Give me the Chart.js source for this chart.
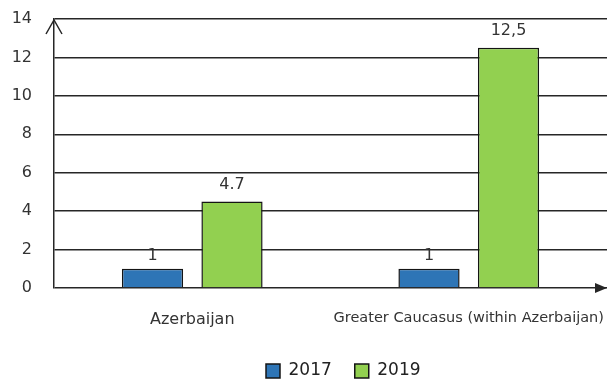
<!DOCTYPE html>
<html>
<head>
<meta charset="utf-8">
<script src="https://cdn.jsdelivr.net/npm/chart.js@4"></script>
<style>
  html, body { margin: 0; padding: 0; background: #fff; }
  #wrap { width: 607px; height: 380px; }
</style>
</head>
<body>
<div id="wrap"><canvas id="chart" width="607" height="380"></canvas></div>
<script>
const categories = ['Azerbaijan', 'Greater Caucasus (within Azerbaijan)'];
const values2017 = [1, 1];
const values2019 = [4.5, 12.5];
const labels2017 = ['1', '1'];
const labels2019 = ['4.7', '12,5'];
const yTicks = [0, 2, 4, 6, 8, 10, 12, 14];

const ink = '#262626';

// value labels above bars
const barLabels = {
  id: 'barLabels',
  afterDatasetsDraw(chart) {
    const { ctx } = chart;
    const texts = [labels2017, labels2019];
    ctx.save();
    ctx.font = '16px "DejaVu Sans"';
    ctx.fillStyle = '#333';
    ctx.textAlign = 'center';
    ctx.textBaseline = 'bottom';
    chart.data.datasets.forEach((ds, i) => {
      chart.getDatasetMeta(i).data.forEach((bar, j) => {
        ctx.fillText(texts[i][j], bar.x, bar.y - (i === 1 ? 9 : 5));
      });
    });
    ctx.restore();
  }
};

// axis arrows
const arrows = {
  id: 'arrows',
  afterDraw(chart) {
    const { ctx, chartArea: a } = chart;
    ctx.save();
    ctx.strokeStyle = ink;
    ctx.fillStyle = ink;
    ctx.lineWidth = 1.5;
    ctx.beginPath();
    ctx.moveTo(a.left - 8, a.top + 15);
    ctx.lineTo(a.left, a.top + 1);
    ctx.lineTo(a.left + 8, a.top + 15);
    ctx.stroke();
    ctx.beginPath();
    ctx.moveTo(a.right, a.bottom);
    ctx.lineTo(a.right - 12, a.bottom - 5);
    ctx.lineTo(a.right - 12, a.bottom + 5);
    ctx.closePath();
    ctx.fill();
    ctx.restore();
  }
};

// put the legend where the original has it (first box at x 266, text centre y 371)
const legendPlace = {
  id: 'legendPlace',
  afterUpdate(chart) {
    const lg = chart.legend;
    const hb = lg.legendHitBoxes[0];
    if (!hb) return;
    const dx = 266 - hb.left;
    const dy = 371 - (hb.top + hb.height / 2);
    lg.left += dx; lg.right += dx;
    lg.top += dy; lg.bottom += dy;
    lg.adjustHitBoxes();
  }
};

new Chart(document.getElementById('chart'), {
  type: 'bar',
  data: {
    labels: categories,
    datasets: [
      { label: '2017', data: values2017, backgroundColor: '#2e75b6', borderColor: '#141414', borderWidth: 1.5 },
      { label: '2019', data: values2019, backgroundColor: '#92d050', borderColor: '#141414', borderWidth: 1.5 }
    ]
  },
  options: {
    responsive: false,
    animation: false,
    categoryPercentage: 0.575,
    barPercentage: 0.77,
    layout: { padding: { top: 19, right: 0, left: 0, bottom: 0 } },
    plugins: {
      tooltip: { enabled: false },
      legend: {
        position: 'bottom',
        labels: {
          boxWidth: 14,
          boxHeight: 14,
          padding: 23,
          color: '#222',
          font: { family: 'DejaVu Sans', size: 17 }
        }
      }
    },
    scales: {
      x: {
        grid: { display: false },
        border: { display: false },
        ticks: {
          padding: 14,
          autoSkip: false,
          maxRotation: 0,
          minRotation: 0,
          color: '#333',
          font: c => ({ family: 'DejaVu Sans', size: c.index === 0 ? 16 : 14.5 })
        },
        afterFit(s) {
          s.height = 380 - 288 - s.chart.legend.height;
          s.paddingLeft = 0;
          s.paddingRight = 0;
        }
      },
      y: {
        min: 0,
        max: 14,
        afterBuildTicks(s) { s.ticks = yTicks.map(v => ({ value: v })); },
        grid: { color: ink, lineWidth: 1.5, drawTicks: false },
        border: { color: ink, width: 1.5 },
        ticks: {
          padding: 22,
          color: '#333',
          font: { family: 'DejaVu Sans', size: 16 }
        },
        afterFit(s) { s.width = 54; s.paddingTop = 0; s.paddingBottom = 0; }
      }
    }
  },
  plugins: [barLabels, arrows, legendPlace]
});
</script>
</body>
</html>
